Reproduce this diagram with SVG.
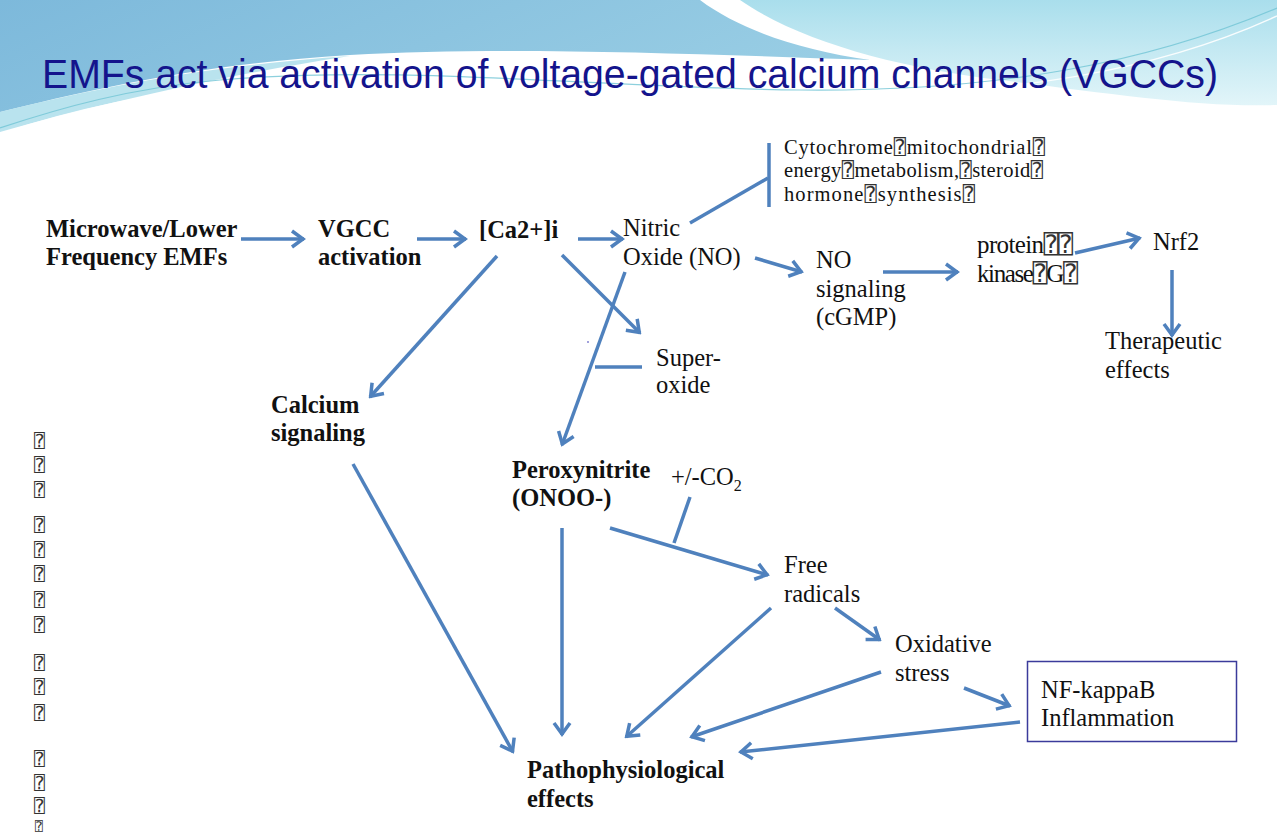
<svg xmlns="http://www.w3.org/2000/svg" width="1277" height="832" viewBox="0 0 1277 832">
<style>
.b{font-family:"Liberation Serif","Times New Roman",serif;font-weight:bold;font-size:24.5px;fill:#111}
.r{font-family:"Liberation Serif","Times New Roman",serif;font-size:24.5px;fill:#111}
.c{font-family:"Liberation Serif","Times New Roman",serif;font-size:20.5px;fill:#111}
.p{font-family:"Liberation Serif","Times New Roman",serif;font-size:25px;fill:#111}
.q{font-family:"DejaVu Sans Mono","DejaVu Sans",monospace;fill:#333}
.lm{font-size:18px}
.t{font-family:"Liberation Sans",Arial,sans-serif;font-size:41px;fill:#14148c}
.ln{fill:none;stroke:#4f81bd;stroke-width:3.5;stroke-linecap:butt}
.ar{marker-end:url(#oa)}
</style>
<defs>
<linearGradient id="gBlue" x1="0" y1="0" x2="1" y2="0.3">
<stop offset="0" stop-color="#7db9db"/>
<stop offset="1" stop-color="#98cde4"/>
</linearGradient>
<linearGradient id="gAqua" x1="0" y1="0" x2="0" y2="1">
<stop offset="0" stop-color="#a9deec"/>
<stop offset="1" stop-color="#e2f5f9"/>
</linearGradient>
<marker id="oa" viewBox="-16 -10 18 20" refX="0" refY="0" markerWidth="18" markerHeight="20" markerUnits="userSpaceOnUse" orient="auto">
<path d="M-12,-8 L-1,0 L-12,8" fill="none" stroke="#4f81bd" stroke-width="3.5"/>
</marker>
</defs>
<rect width="1277" height="832" fill="#ffffff"/>
<g id="header-bg">
<path d="M740,0 H1277 V105 C1200,108 1100,92 1000,80 C900,68 800,42 740,0 Z" fill="url(#gAqua)"/>
<path d="M0,0 H700 C740,30 800,50 870,60 C700,54 500,46 350,55 C200,64 90,90 0,112 Z" fill="url(#gBlue)"/>
<path d="M0,112 C90,90 200,66 350,56 C220,76 100,104 0,132 Z" fill="#a7dcea" opacity="0.8"/>
<path d="M1277,8 C1150,62 1000,92 800,90 C600,88 400,64 220,80 C130,88 60,108 0,128" fill="none" stroke="#70c4d4" stroke-width="1.2" opacity="0.8"/>
<path d="M1277,16 C1160,70 1010,98 800,95 C600,92 420,70 230,86 C140,94 60,114 0,134" fill="none" stroke="#ffffff" stroke-width="1.5" opacity="0.9"/>
</g>
<text class="t" x="42" y="88" textLength="1176" lengthAdjust="spacingAndGlyphs">EMFs act via activation of voltage-gated calcium channels (VGCCs)</text>
<g id="left-marks">
<text class="q lm" x="34" y="447">⍰</text>
<text class="q lm" x="34" y="471">⍰</text>
<text class="q lm" x="34" y="496">⍰</text>
<text class="q lm" x="34" y="531">⍰</text>
<text class="q lm" x="34" y="556">⍰</text>
<text class="q lm" x="34" y="580">⍰</text>
<text class="q lm" x="34" y="606">⍰</text>
<text class="q lm" x="34" y="631">⍰</text>
<text class="q lm" x="34" y="669">⍰</text>
<text class="q lm" x="34" y="693">⍰</text>
<text class="q lm" x="34" y="719">⍰</text>
<text class="q lm" x="34" y="765">⍰</text>
<text class="q lm" x="34" y="789">⍰</text>
<text class="q lm" x="34" y="812">⍰</text>
<text class="q" x="35" y="831" font-size="13">⍰</text>
</g>
<g id="connectors">
<path class="ln ar" d="M241,239 L304,239"/>
<path class="ln ar" d="M417,239 L466,239"/>
<path class="ln ar" d="M578,239 L623,239"/>
<path class="ln" d="M690,223 L768,178"/>
<path class="ln" d="M769,143 L769,207" stroke-width="3"/>
<path class="ln ar" d="M755,258 L802,272"/>
<path class="ln ar" d="M883,272 L958,272"/>
<path class="ln ar" d="M1075,253 L1140,238"/>
<path class="ln ar" d="M1172,270 L1172,336"/>
<path class="ln ar" d="M497,256 L370,397"/>
<path class="ln ar" d="M562,255 L640,333"/>
<path class="ln ar" d="M625,272 L562,445"/>
<path class="ln" d="M595,367 L642,367"/>
<path class="ln ar" d="M353,464 L513,752"/>
<path class="ln ar" d="M562,528 L562,735"/>
<path class="ln ar" d="M610,528 L768,575"/>
<path class="ln" d="M690,497 L674,543"/>
<path class="ln ar" d="M771,608 L626,737"/>
<path class="ln ar" d="M835,608 L880,640"/>
<path class="ln ar" d="M881,672 L691,737"/>
<path class="ln ar" d="M964,688 L1010,706"/>
<path class="ln ar" d="M1020,722 L740,752"/>
</g>
<g id="n-emf"><text class="b" x="46" y="237">Microwave/Lower</text><text class="b" x="46" y="265">Frequency EMFs</text></g>
<g id="n-vgcc"><text class="b" x="318" y="237">VGCC</text><text class="b" x="318" y="265">activation</text></g>
<g id="n-ca"><text class="b" x="479" y="238">[Ca2+]i</text></g>
<g id="n-no"><text class="r" x="623" y="236">Nitric</text><text class="r" x="623" y="265">Oxide (NO)</text></g>
<g id="n-cyto">
<text class="c" x="784" y="154" textLength="261">Cytochrome<tspan class="q">⍰</tspan>mitochondrial<tspan class="q">⍰</tspan></text>
<text class="c" x="784" y="177" textLength="259">energy<tspan class="q">⍰</tspan>metabolism,<tspan class="q">⍰</tspan>steroid<tspan class="q">⍰</tspan></text>
<text class="c" x="784" y="201" textLength="191">hormone<tspan class="q">⍰</tspan>synthesis<tspan class="q">⍰</tspan></text>
</g>
<g id="n-nosig"><text class="r" x="816" y="268">NO</text><text class="r" x="816" y="297">signaling</text><text class="r" x="816" y="325">(cGMP)</text></g>
<g id="n-pkg"><text class="p" x="977" y="253" textLength="96">protein<tspan class="q">⍰⍰</tspan></text><text class="p" x="977" y="282" textLength="101">kinase<tspan class="q">⍰</tspan>G<tspan class="q">⍰</tspan></text></g>
<g id="n-nrf2"><text class="r" x="1153" y="250">Nrf2</text></g>
<g id="n-ther"><text class="r" x="1105" y="349">Therapeutic</text><text class="r" x="1105" y="378">effects</text></g>
<g id="n-super"><text class="r" x="656" y="366">Super-</text><text class="r" x="656" y="393">oxide</text><circle cx="588" cy="342" r="0.8" fill="#2b2bb0"/></g>
<g id="n-calsig"><text class="b" x="271" y="413">Calcium</text><text class="b" x="271" y="441">signaling</text></g>
<g id="n-onoo"><text class="b" x="512" y="478">Peroxynitrite</text><text class="b" x="512" y="506">(ONOO-)</text></g>
<g id="n-co2"><text class="r" x="671" y="485">+/-CO<tspan font-size="16" dy="6">2</tspan></text></g>
<g id="n-free"><text class="r" x="784" y="573">Free</text><text class="r" x="784" y="602">radicals</text></g>
<g id="n-ox"><text class="r" x="895" y="652">Oxidative</text><text class="r" x="895" y="681">stress</text></g>
<g id="n-nfkb"><rect x="1027.5" y="661.5" width="209" height="80" fill="#ffffff" stroke="#3b3b9b" stroke-width="1.5"/><text class="r" x="1041" y="698">NF-kappaB</text><text class="r" x="1041" y="726">Inflammation</text></g>
<g id="n-patho"><text class="b" x="527" y="778">Pathophysiological</text><text class="b" x="527" y="807">effects</text></g>
</svg>
